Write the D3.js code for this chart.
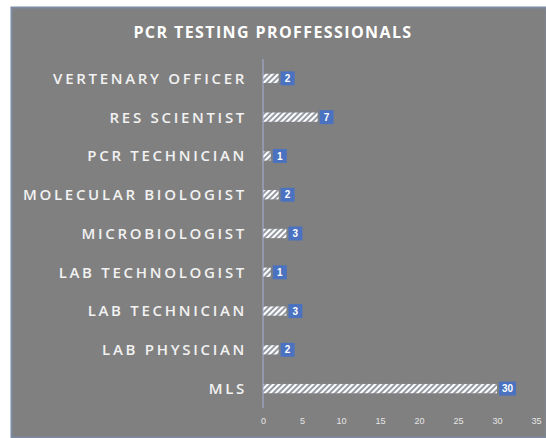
<!DOCTYPE html>
<html>
<head>
<meta charset="utf-8">
<script src="https://cdn.jsdelivr.net/npm/d3@7"></script>
<style>
  body { margin: 0; background: #fff; }
  svg { display: block; }
</style>
</head>
<body>
<div id="chart"></div>
<script>
const categories = [
  'VERTENARY OFFICER', 'RES SCIENTIST', 'PCR TECHNICIAN', 'MOLECULAR BIOLOGIST',
  'MICROBIOLOGIST', 'LAB TECHNOLOGIST', 'LAB TECHNICIAN', 'LAB PHYSICIAN', 'MLS'
];
const values = [2, 7, 1, 2, 3, 1, 3, 2, 30];
const xTicks = [0, 5, 10, 15, 20, 25, 30, 35];
const title = 'PCR TESTING PROFFESSIONALS';

const width = 546;
const height = 438;
const dims = {
  left: 263,
  right: 536,
  top: 59,
  bottom: 408,
};

const svg = d3.select('#chart')
  .append('svg')
  .attr('width', width)
  .attr('height', height);

// striped pattern for bars
const defs = svg.append('defs');
const pattern = defs.append('pattern')
  .attr('id', 'stripes')
  .attr('patternUnits', 'userSpaceOnUse')
  .attr('width', 4)
  .attr('height', 4)
  .attr('patternTransform', 'rotate(45)');
pattern.append('rect')
  .attr('width', 4).attr('height', 4)
  .attr('fill', '#8a8f99');
pattern.append('rect')
  .attr('width', 2.2).attr('height', 4)
  .attr('fill', '#ffffff');

// chart background
svg.append('rect')
  .attr('x', 11.5).attr('y', 7.5)
  .attr('width', width - 11)
  .attr('height', height - 8)
  .attr('fill', '#808080')
  .attr('stroke', '#7d8aa3')
  .attr('stroke-width', 2);

svg.append('text')
  .attr('x', 273)
  .attr('y', 38)
  .attr('text-anchor', 'middle')
  .attr('fill', '#ffffff')
  .style('font-family', '"Open Sans", sans-serif')
  .style('font-weight', 'bold')
  .style('font-size', '16px')
  .style('letter-spacing', '1.4px')
  .text(title);

const xScale = d3.scaleLinear()
  .domain([0, 35])
  .range([dims.left, dims.right]);

const yScale = d3.scaleBand()
  .domain(categories)
  .range([dims.top, dims.bottom])
  .paddingInner(0.76)
  .paddingOuter(0.38);

// x axis labels
const xAxis = svg.append('g')
  .attr('transform', `translate(0, ${dims.bottom + 10})`)
  .call(d3.axisBottom(xScale).tickValues(xTicks).tickSize(0).tickPadding(0));
xAxis.select('.domain').remove();
xAxis.selectAll('text')
  .attr('fill', '#e6e6e6')
  .style('font-family', '"Liberation Sans", sans-serif')
  .style('font-size', '9px');

// category labels
svg.append('g')
  .selectAll('text')
  .data(categories)
  .join('text')
  .attr('x', 247)
  .attr('y', (d) => yScale(d) + yScale.bandwidth() / 2)
  .attr('dy', '0.36em')
  .attr('text-anchor', 'end')
  .attr('fill', '#f2f2f2')
  .style('font-family', '"Open Sans", sans-serif')
  .style('font-weight', '600')
  .style('font-size', '15px')
  .style('letter-spacing', '2.7px')
  .text((d) => d);

// bars
svg.append('g')
  .selectAll('rect')
  .data(values)
  .join('rect')
  .attr('x', xScale(0))
  .attr('y', (d, i) => yScale(categories[i]))
  .attr('width', (d) => xScale(d) - xScale(0))
  .attr('height', yScale.bandwidth())
  .attr('fill', 'url(#stripes)');

// vertical axis line
svg.append('line')
  .attr('x1', dims.left).attr('x2', dims.left)
  .attr('y1', dims.top).attr('y2', dims.bottom)
  .attr('stroke', '#aab0d8')
  .attr('stroke-width', 1);

// value labels
const labels = svg.append('g')
  .selectAll('g')
  .data(values)
  .join('g')
  .attr('transform', (d, i) =>
    `translate(${xScale(d) + 2}, ${yScale(categories[i]) + yScale.bandwidth() / 2})`);
labels.append('rect')
  .attr('x', 0)
  .attr('y', -7)
  .attr('width', (d) => (d >= 10 ? 17 : 14))
  .attr('height', 14)
  .attr('fill', '#4a72c0');
labels.append('text')
  .attr('x', (d) => (d >= 10 ? 8.5 : 7))
  .attr('dy', '0.36em')
  .attr('text-anchor', 'middle')
  .attr('fill', '#ffffff')
  .style('font-family', '"Liberation Sans", sans-serif')
  .style('font-size', '10px')
  .style('font-weight', 'bold')
  .text((d) => d);
</script>
</body>
</html>
